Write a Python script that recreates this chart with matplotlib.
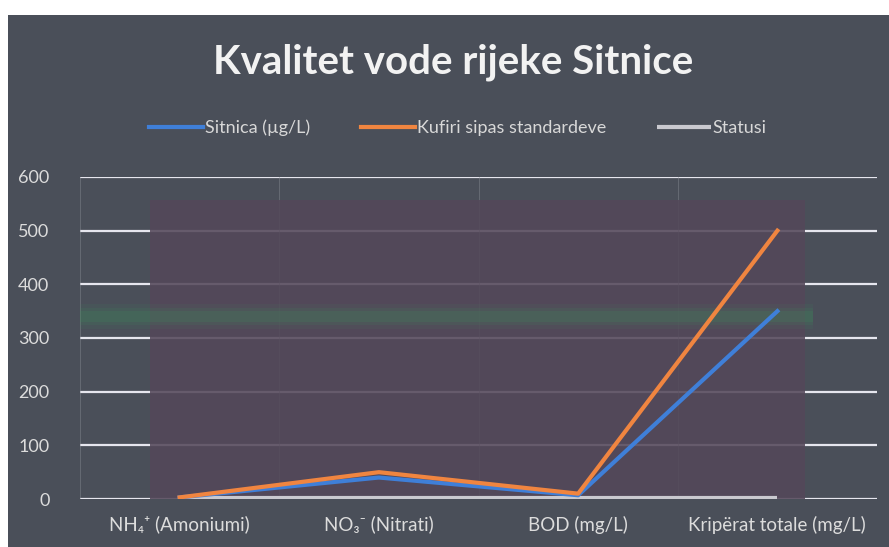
import matplotlib
matplotlib.use("Agg")
import matplotlib.pyplot as plt
from matplotlib.patches import Rectangle

categories = ["NH\u2084\u207a (Amoniumi)", "NO\u2083\u207b (Nitrati)", "BOD (mg/L)", "Krip\u00ebrat totale (mg/L)"]
sitnica = [3, 40, 7, 350]
kufiri = [3, 50, 10, 500]
statusi = [2, 2, 2, 2]
series_names = ["Sitnica (\u00b5g/L)", "Kufiri sipas standardeve", "Statusi"]
yticks = [0, 100, 200, 300, 400, 500, 600]

plt.rcParams['font.family'] = ['Lato', 'DejaVu Sans']

W, H = 889, 547
fig = plt.figure(figsize=(W / 100, H / 100), dpi=100)
fig.patch.set_facecolor("white")
bg = "#4a4f59"
fig.patches.append(Rectangle((8 / W, 0), 1 - 8 / W, 1 - 15 / H, transform=fig.transFigure,
                             facecolor=bg, edgecolor="none", zorder=-5))

left, right = 80 / W, 877 / W
bottom, top = (H - 499) / H, (H - 177) / H
ax = fig.add_axes([left, bottom, right - left, top - bottom])
ax.set_zorder(2)
ax.set_facecolor("none")
x = list(range(len(categories)))
ax.set_xlim(-0.5, len(categories) - 0.5)
ax.set_ylim(0, 600)

# gridlines
for t in yticks:
    ax.axhline(t, color="#e6e6ee", lw=1.6, zorder=1)
for b in [-0.5, 0.5, 1.5, 2.5, 3.5]:
    ax.axvline(b, color="#8a8e96", lw=0.6, alpha=0.5, zorder=1)

# purple overlay panel
ax.add_patch(Rectangle((-0.15, 0), 3.29, 557, facecolor="#54485a",
                       edgecolor="none", alpha=0.88, zorder=2))
# green glow band
for h, a in [(45, 0.10), (32, 0.14), (20, 0.2)]:
    ax.axhspan(340 - h / 2, 340 + h / 2, xmin=0.0, xmax=0.92, color="#3f8a5a", alpha=a, lw=0, zorder=3)

ax.plot(x, statusi, color="#c9c9cf", lw=3.0, zorder=4, label=series_names[2], solid_capstyle="butt")
ax.plot(x, sitnica, color="#3f7fd8", lw=3.0, zorder=5, label=series_names[0])
ax.plot(x, kufiri, color="#f08540", lw=3.0, zorder=6, label=series_names[1])

ax.set_yticks(yticks)
ax.set_yticklabels([str(t) for t in yticks], color="#dcdcdc", fontsize=13)
ax.set_xticks(x)
ax.set_xticklabels(categories, color="#dcdcdc", fontsize=13.5)
ax.tick_params(length=0, pad=22, axis="y")
ax.tick_params(length=0, pad=12, axis="x")
for s in ax.spines.values():
    s.set_visible(False)

fig.text(0.51, 1 - 62 / H, "Kvalitet vode rijeke Sitnice", ha="center", va="center",
         fontsize=29, fontweight="bold", color="#f2f2f2")

handles, labels = ax.get_legend_handles_labels()
order = [1, 2, 0]
leg = fig.legend([handles[i] for i in order], [labels[i] for i in order],
                 loc="center", bbox_to_anchor=(0.515, 1 - 128 / H), ncol=3, frameon=False,
                 fontsize=13, handlelength=3.0, handletextpad=0.1, columnspacing=2.8)
for t in leg.get_texts():
    t.set_color("#d8d8d8")

fig.savefig("out.png", dpi=100, facecolor=fig.get_facecolor())
